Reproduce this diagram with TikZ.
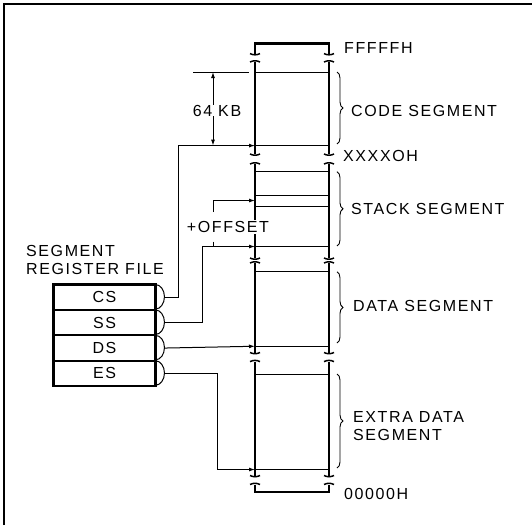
\documentclass[tikz,border=0pt]{standalone}
\usepackage{fontspec}
\setmainfont{Liberation Sans}[LetterSpace=10]
\usepackage{tikz}
\usetikzlibrary{arrows.meta,positioning,calc,decorations.pathreplacing}
\tikzset{
  wire/.style={line width=1pt},
  arr/.style={wire,-{Latex[length=6pt,width=4pt]}},
  col/.style={line width=2.6pt},
  tick/.style={line width=1.5pt},
  seg/.style={line width=0.9pt},
  reg/.style={draw,line width=0.9pt,minimum width=101pt,minimum height=24.5pt,
              inner sep=0pt,font=\fontsize{16}{18}\selectfont},
  lbl/.style={font=\fontsize{16}{18}\selectfont,inner sep=0pt,align=left},
  brc/.style={line width=0.9pt,decorate,decoration={brace,amplitude=6pt}},
}

\begin{document}
\begin{tikzpicture}[x=1pt,y=-1pt]
\useasboundingbox (0,0) rectangle (532,525);

%% ---------- frame ----------
\draw[line width=2.4pt] (4,525) -- (4,4) -- (532,4);

%% ---------- memory column ----------
\foreach \y in {72,145.6,171.7,195.9,206.9,246.5,271.8,346,374,469.5}
  \draw[seg] (255,\y) -- (329,\y);

\foreach \x in {255,329}{
  \foreach \a/\b in {62/154,164/258,263/352.5,361.6/475.5}{
    \draw[col] (\x,\a) -- (\x,\b);
    \draw[tick] (\x-5,\a) to[bend left=25] (\x+5,\a);
    \draw[tick] (\x-5,\b) to[bend right=25] (\x+5,\b);
  }
}
% end caps
\draw[col] (255,53.6) -- (255,43.5) -- (329,43.5) -- (329,53.6);
\draw[tick] (250,53.6) to[bend right=25] (260,53.6);
\draw[tick] (324,53.6) to[bend right=25] (334,53.6);
\draw[col] (255,484.5) -- (255,492) -- (329,492) -- (329,484.5);
\draw[tick] (250,484.5) to[bend left=25] (260,484.5);
\draw[tick] (324,484.5) to[bend left=25] (334,484.5);

%% arrow targets on the column
\coordinate (cbot) at (255,145.6);
\coordinate (soff) at (255,200.5);
\coordinate (sbot) at (255,246.5);
\coordinate (dbot) at (255,346.25);
\coordinate (ebot) at (255,469.5);

%% ---------- braces and labels ----------
\draw[brc] (337,72) -- (337,144);
\draw[brc] (337,171.7) -- (337,246);
\draw[brc] (337,271.8) -- (337,343);
\draw[brc] (337,374) -- (337,468);

\node[lbl,anchor=west] (top)   at (344,48)    {FFFFFH};
\node[lbl,anchor=west] (code)  at (351,110.5) {CODE SEGMENT};
\node[lbl,anchor=west] (base)  at (343,155.7) {XXXXOH};
\node[lbl,anchor=west] (stack) at (351,209)   {STACK SEGMENT};
\node[lbl,anchor=west] (data)  at (353,306)   {DATA SEGMENT};
\node[lbl,anchor=west] (extra) at (353,426)   {EXTRA DATA\\SEGMENT};
\node[lbl,anchor=west] (bot)   at (344,494)   {00000H};

%% ---------- 64 KB span ----------
\coordinate (kbtop) at (213,72);
\coordinate (kbbot) at (213,145.6);
\draw[seg] (193,72) -- (249,72);
\node[lbl] (kb) at (217,110.5) {64 KB};
\draw[arr] (kb.north -| kbtop) -- (kbtop);
\draw[arr] (kb.south -| kbbot) -- (kbbot);

%% ---------- register file ----------
\node[lbl,anchor=west] (rfile) at (26,260) {SEGMENT\\REGISTER FILE};
\node[reg] (cs) at (104.5,297.25) {CS};
\node[reg,below=0pt of cs] (ss) {SS};
\node[reg,below=0pt of ss] (ds) {DS};
\node[reg,below=0pt of ds] (es) {ES};
\draw[line width=2.2pt] (cs.north east) -- (cs.north west) -- (es.south west)
  -- (es.south east) -- cycle;
\foreach \r in {cs,ss,ds,es}{
  \draw[wire] (\r.north east) arc[start angle=90,end angle=-90,
    x radius=9pt,y radius=12.25pt];
  \coordinate (\r b) at ([xshift=9pt]\r.east);
}

%% ---------- register to segment arrows ----------
\draw[arr] (csb) -- ++(14,0) |- (cbot);
\draw[arr] (ssb) -- ++(38,0) |- (sbot);
\draw[arr] (dsb) -- (dbot);
\draw[arr] (esb) -- ++(53,0) |- (ebot);

%% offset into the stack segment
\coordinate (offlo) at (213,212);
\coordinate (offtick) at (213,241.5);
\draw[arr] (offlo) |- (soff);
\draw[wire] (offtick) -- (offtick |- sbot);
\node[lbl,fill=white,inner sep=1pt] (off) at (228,227) {+OFFSET};

\end{tikzpicture}
\end{document}
